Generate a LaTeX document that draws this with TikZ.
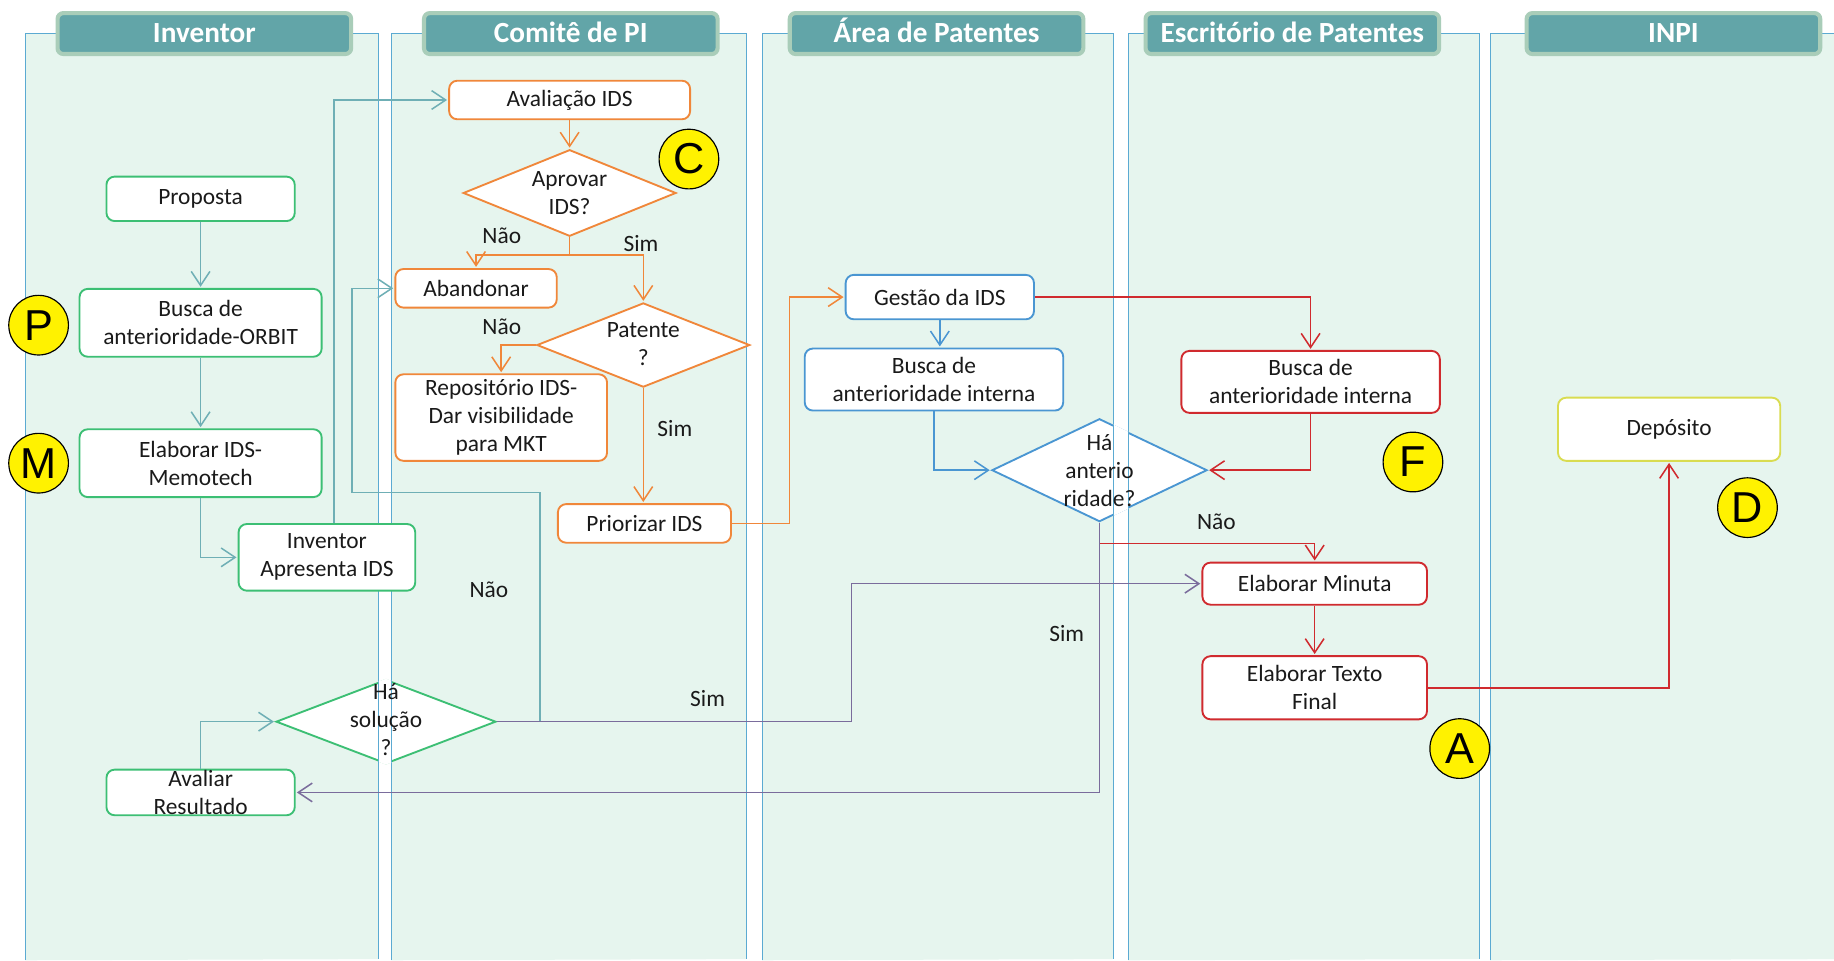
\documentclass[tikz,border=0pt]{standalone}
\usepackage{fontspec}
\setmainfont{Carlito}
\newfontfamily\letrafont{Liberation Sans}
\usepackage{tikz}
\usetikzlibrary{shapes,backgrounds}
\usetikzlibrary{arrows,arrows.meta}

\definecolor{faixa}{HTML}{E6F5EE}
\definecolor{borda}{HTML}{5BAAD2}
\definecolor{cabeca}{HTML}{62A5A8}
\definecolor{cabecaborda}{HTML}{A9CDB9}
\definecolor{verde}{HTML}{3CBF74}
\definecolor{piscina}{HTML}{6FAFB5}
\definecolor{laranja}{HTML}{F0873A}
\definecolor{azul}{HTML}{4A96D2}
\definecolor{vermelho}{HTML}{D02A2E}
\definecolor{roxo}{HTML}{7A6C9C}
\definecolor{oliva}{HTML}{D9DC50}
\definecolor{escrito}{HTML}{1A1A1A}

\begin{document}
\begin{tikzpicture}[->,>={Straight Barb[length=12pt,width=16pt]},shorten >=1pt,
                    x=1pt,y=-1pt,line width=1.3pt,
                    font=\fontsize{20}{24}\selectfont,text=escrito,
                    lane/.style={-,fill=faixa,draw=borda,line width=0.9pt},
                    head/.style={rounded corners=5pt,fill=cabeca,draw=cabecaborda,
                      line width=3.5pt,text=white,minimum width=251pt,minimum height=35pt,
                      inner sep=0pt,text height=18pt,text depth=3pt,
                      font=\fontsize{25}{28}\selectfont\bfseries},
                    proc/.style={rectangle,rounded corners=7pt,draw,fill=white,
                      line width=1.6pt,align=center,inner sep=0pt},
                    dec/.style={diamond,draw,fill=white,line width=1.6pt,inner sep=0pt},
                    badge/.style={circle,draw=black,fill=yellow,line width=1pt,
                      minimum size=51pt,inner sep=0pt,text=black,
                      font=\letrafont\fontsize{37}{37}\selectfont}]

  \useasboundingbox (0,0) rectangle (1568,821);
  \fill[white] (0,0) rectangle (1568,821);

  % raias
  \filldraw[lane] (22.2,821)   |- (323.3,29)  -- (323.3,821);
  \filldraw[lane] (335,821)    |- (638.2,29)  -- (638.2,821);
  \filldraw[lane] (651.8,821)  |- (951.9,29)  -- (951.9,821);
  \filldraw[lane] (965,821)    |- (1265.1,29) -- (1265.1,821);
  \filldraw[lane] (1274.1,821) |- (1580,29)   -- (1580,821);

  \node[head] (hinv) at (174.7,28.7)  {Inventor};
  \node[head] (hcom) at (488,28.7)    {Comitê de PI};
  \node[head] (hare) at (800.7,28.7)  {Área de Patentes};
  \node[head] (hesc) at (1104.9,28.7) {Escritório de Patentes};
  \node[head] (hinp) at (1430.7,28.7) {INPI};

  % Inventor
  \node[proc,draw=verde,minimum width=161pt,minimum height=38pt] (prop) at (171.5,170) {Proposta};
  \node[proc,draw=verde,minimum width=207pt,minimum height=58pt] (orbit) [node distance=106pt,below of=prop] {Busca de\\anterioridade-ORBIT};
  \node[proc,draw=verde,minimum width=207pt,minimum height=58pt] (memo) [node distance=120pt,below of=orbit] {Elaborar IDS-\\Memotech};
  \node[proc,draw=verde,minimum width=151pt,minimum height=57pt] (apres) at (279.5,476.5) {Inventor\\Apresenta IDS};
  \node[dec,draw=verde,minimum width=188pt,minimum height=72pt] (sol) at (330,617) {};
  \node[proc,draw=verde,minimum width=161pt,minimum height=39pt] (aval) at (171.5,677.5) {Avaliar\\Resultado};

  % Comite de PI
  \node[proc,draw=laranja,minimum width=206pt,minimum height=33pt] (avids) at (487,85.5) {Avaliação IDS};
  \node[dec,draw=laranja,minimum width=182pt,minimum height=74pt] (aprov) [node distance=79.5pt,below of=avids] {};
  \node[proc,draw=laranja,minimum width=138pt,minimum height=33pt] (aband) at (407,246.5) {Abandonar};
  \node[dec,draw=laranja,minimum width=182pt,minimum height=72pt] (pat) at (550,295) {};
  \node[proc,draw=laranja,minimum width=181pt,minimum height=74pt] (repo) at (428.5,357) {Repositório IDS-\\Dar visibilidade\\para MKT};
  \node[proc,draw=laranja,minimum width=148pt,minimum height=33pt] (prior) at (551,447.5) {Priorizar IDS};

  % Area de Patentes
  \node[proc,draw=azul,minimum width=161pt,minimum height=38pt] (gest) at (803.5,254) {Gestão da IDS};
  \node[proc,draw=azul,minimum width=221pt,minimum height=53pt] (bint) at (798.5,324.5) {Busca de\\anterioridade interna};
  \node[dec,draw=azul,minimum width=184pt,minimum height=88pt] (ant) at (940,402) {};

  % Escritorio de Patentes
  \node[proc,draw=vermelho,minimum width=221pt,minimum height=53pt] (bext) at (1120.5,326.5) {Busca de\\anterioridade interna};
  \node[proc,draw=vermelho,minimum width=192pt,minimum height=36pt] (minuta) at (1124,499) {Elaborar Minuta};
  \node[proc,draw=vermelho,minimum width=192pt,minimum height=54pt] (texto) [node distance=89pt,below of=minuta] {Elaborar Texto\\Final};

  % INPI
  \node[proc,draw=oliva,minimum width=190pt,minimum height=54pt] (dep) at (1427,367) {Depósito};

  % faixas entre raias por cima dos losangos
  \begin{scope}[-]
    \clip (sol.north) -- (sol.east) -- (sol.south) -- (sol.west) -- cycle;
    \fill[white] (323.3,570) rectangle (335,670);
    \draw[borda,line width=0.9pt] (323.3,570) -- (323.3,670) (335,570) -- (335,670);
  \end{scope}
  \begin{scope}[-]
    \clip (ant.north) -- (ant.east) -- (ant.south) -- (ant.west) -- cycle;
    \fill[white] (951.9,350) rectangle (965,455);
    \draw[borda,line width=0.9pt] (951.9,350) -- (951.9,455) (965,350) -- (965,455);
  \end{scope}

  \node[align=center] (soltxt)   at (330,615)   {Há\\solução\\?};
  \node[align=center] (aprovtxt) at (aprov)     {Aprovar\\IDS?};
  \node[align=center] (pattxt)   at (550,294)   {Patente\\?};
  \node[align=center] (anttxt)   at (ant)       {Há\\anterio\\ridade?};

  % conectores
  \path[piscina] (prop)  edge (orbit)
                 (orbit) edge (memo);
  \draw[piscina] (memo) |- (apres);
  \draw[piscina] ([xshift=6pt]apres.north) |- (avids);
  \draw[piscina] (aval) |- (sol);
  \draw[piscina] (sol.east) -- ++(37,0) |- (301,421) |- (aband);

  \path[laranja] (avids) edge (aprov);
  \draw[laranja] (aprov.south) -- ++(0,15) -| (aband);
  \draw[laranja] (aprov.south) -- ++(0,15) -| (pat);
  \draw[laranja] (pat) -| (repo);
  \draw[laranja] (pat.south) -- (pat.south |- prior.north);
  \draw[laranja] (prior) -- ++(124,0) |- (gest);

  \draw[azul] (gest) -- (gest |- bint.north);
  \draw[azul] (bint) |- (ant);

  \draw[vermelho] (gest) -| (bext);
  \draw[vermelho] (bext) |- (ant);
  \draw[vermelho] (ant.south) -- ++(0,18) -| (minuta);
  \path[vermelho] (minuta) edge (texto);
  \draw[vermelho] (texto) -| (dep);

  \draw[roxo] (ant.south) |- (aval);
  \draw[roxo] (sol.east) -- ++(303,0) |- (minuta);

  % rotulos
  \node (nao1) at (429,202)  {Não};
  \node (sim1) at (548,208)  {Sim};
  \node (nao2) at (429,279)  {Não};
  \node (sim2) at (577,366)  {Sim};
  \node (nao3) at (418,504)  {Não};
  \node (sim3) at (605,597)  {Sim};
  \node (nao4) at (1040,446) {Não};
  \node (sim4) at (912,542)  {Sim};

  % marcadores
  \node[badge] (bc) at (589,136)  {C};
  \node[badge] (bp) at (33,278)   {P};
  \node[badge] (bm) at (33,396)   {M};
  \node[badge] (bf) at (1208,395) {F};
  \node[badge] (bd) at (1494,434) {D};
  \node[badge] (ba) at (1248,640) {A};
\end{tikzpicture}
\end{document}
